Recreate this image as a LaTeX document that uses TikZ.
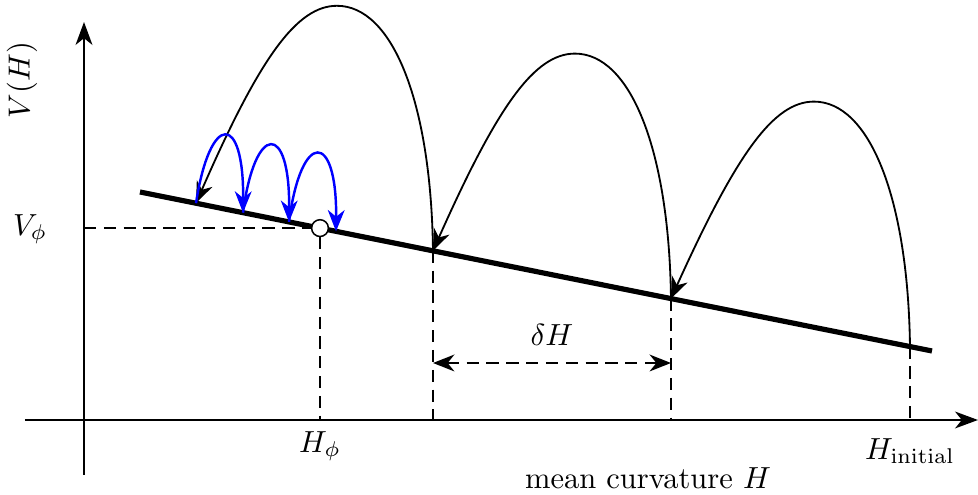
\documentclass[tikz,border=0pt]{standalone}
\usetikzlibrary{arrows.meta}
\begin{document}
\begin{tikzpicture}[x=0.01152cm,y=-0.01152cm,
  axis/.style={line width=0.8pt,-{Stealth[length=7.5pt,width=5.5pt,inset=2.2pt]}},
  guide/.style={line width=0.7pt,dash pattern=on 4pt off 2.5pt},
  jump/.style={line width=0.6pt,-{Stealth[length=7pt,width=5.5pt,inset=2.2pt]}},
  bluejump/.style={line width=0.8pt,blue,-{Stealth[length=7pt,width=5.5pt,inset=2.2pt]}},
  potential/.style={line width=1.7pt},
  lbl/.style={inner sep=1pt}]
\useasboundingbox (0,0) rectangle (978,495);
% coordinates
\coordinate (O1) at (84,475);
\coordinate (Ytop) at (84,22);
\coordinate (X0) at (25,420);
\coordinate (Xend) at (978,420);
\coordinate (L0) at (140,192);
\coordinate (L1) at (932,351);
\coordinate (A0) at (196,203.2);
\coordinate (B1) at (243,212.7);
\coordinate (B2) at (289,221.9);
\coordinate (B3) at (336,231.4);
\coordinate (Vl) at (84,228.1);
\coordinate (Hp) at (320,420);
\coordinate (A1) at (433,250.8);
\coordinate (A2) at (671,298.6);
\coordinate (A3) at (910,346.6);
\coordinate (F1) at (433,420);
\coordinate (F2) at (671,420);
\coordinate (F3) at (910,420);
\coordinate (D1) at (433,363);
\coordinate (D2) at (671,363);
% axes
\draw[axis] (O1) -- (Ytop);
\draw[axis] (X0) -- (Xend);
% potential line
\draw[potential] (L0) -- (L1);
% guides
\node[circle,draw,fill=white,line width=0.5pt,minimum size=5.5pt,inner sep=0pt] (phi) at (320,228.1) {};
\draw[guide] (Vl) -- (phi.west);
\draw[guide] (phi.south) -- (Hp);
\draw[guide] (A1) -- (F1);
\draw[guide] (A2) -- (F2);
\draw[guide] (A3) -- (F3);
\draw[guide,{Stealth[length=7pt,width=5.5pt,inset=2.2pt]}-{Stealth[length=7pt,width=5.5pt,inset=2.2pt]}] (D1) -- (D2);
% big jumps
\draw[jump] (A3) .. controls (908,196.6) and (869,101.6) .. (814,101.6)
  .. controls (774,101.6) and (737,152.6) .. (A2);
\draw[jump] (A2) .. controls (669,148.6) and (630,53.6) .. (575,53.6)
  .. controls (535,53.6) and (498,104.6) .. (A1);
\draw[jump] (A1) .. controls (431,100.8) and (392,5.8) .. (337,5.8)
  .. controls (297,5.8) and (260,56.8) .. (A0);
% small jumps
\draw[bluejump] (A0) .. controls (210,112) and (244,112) .. (B1);
\draw[bluejump] (B1) .. controls (255,122) and (290,122) .. (B2);
\draw[bluejump] (B2) .. controls (301,130) and (337,130) .. (B3);
% labels
\node[lbl,rotate=90] (vh) at (22,80) {$V(H)$};
\node[lbl] (vphi) at (30,229) {$V_\phi$};
\node[lbl] (hphi) at (320,446) {$H_\phi$};
\node[lbl] (hini) at (910,451) {$H_{\mathrm{initial}}$};
\node[lbl] (mc) at (648,478) {mean curvature $H$};
\node[lbl] (dh) at (552,335) {$\delta H$};
\end{tikzpicture}
\end{document}
